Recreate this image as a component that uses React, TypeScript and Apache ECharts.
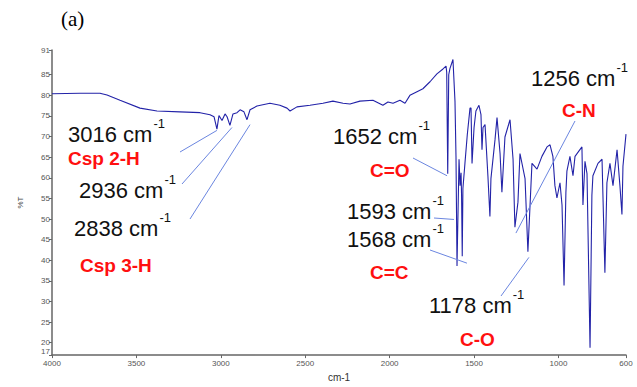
import React, { useEffect, useRef } from "react";
import * as echarts from "echarts";

// Wavenumber (cm-1) and transmittance (%T)
const wavenumbers = [
  4000, 3834, 3716, 3674, 3597, 3479, 3378, 3242, 3123, 3064, 3040, 3023, 3011, 2993, 2975, 2963,
  2946, 2928, 2904, 2886, 2863, 2845, 2827, 2786, 2709, 2650, 2608, 2590, 2549, 2472, 2395, 2336,
  2276, 2235, 2176, 2099, 2040, 2010, 1980, 1939, 1909, 1880, 1838, 1803, 1761, 1720, 1684, 1666,
  1662, 1656, 1650, 1643, 1625, 1613, 1607, 1601, 1589, 1583, 1577, 1574, 1570, 1566, 1554, 1540,
  1524, 1518, 1512, 1500, 1489, 1471, 1459, 1453, 1447, 1435, 1418, 1406, 1400, 1376, 1364, 1346,
  1335, 1317, 1287, 1269, 1258, 1240, 1228, 1198, 1181, 1157, 1127, 1098, 1068, 1050, 1033, 1021,
  1009, 991, 979, 967, 956, 950, 932, 914, 902, 861, 855, 843, 831, 813, 802, 796,
  766, 742, 725, 713, 695, 677, 653, 636, 624, 618, 600,
];
const transmittance = [
  80.4, 80.5, 80.5, 80.1, 78.8, 76.9, 76.2, 76.0, 75.8, 75.3, 74.8, 71.8, 75.1, 73.9, 75.5, 74.8,
  72.7, 75.5, 75.8, 76.5, 76.0, 74.1, 76.5, 77.4, 78.1, 77.6, 76.9, 76.2, 77.2, 77.6, 78.1, 78.6,
  78.1, 77.9, 78.6, 78.8, 77.6, 78.4, 78.1, 78.8, 78.1, 80.0, 80.9, 81.6, 83.3, 85.2, 86.4, 87.1,
  85.6, 61.0, 85.0, 86.5, 88.7, 78.6, 65.2, 38.6, 64.5, 58.1, 61.2, 55.8, 41.0, 57.4, 63.5, 70.5,
  76.9, 76.9, 63.5, 72.2, 76.2, 77.6, 75.3, 66.8, 72.2, 72.9, 60.5, 50.6, 59.8, 69.2, 74.6, 65.9,
  56.5, 69.9, 74.1, 64.5, 48.0, 54.1, 65.9, 59.8, 42.1, 63.5, 62.1, 65.2, 67.5, 68.0, 65.2, 58.1,
  55.1, 58.8, 53.4, 33.9, 56.5, 61.6, 65.2, 60.5, 65.2, 67.5, 53.4, 64.0, 61.0, 18.8, 55.8, 60.5,
  63.5, 64.5, 37.0, 58.8, 63.5, 58.1, 66.8, 58.1, 51.1, 62.8, 70.6,
];

const xTickValues = [4000, 3500, 3000, 2500, 2000, 1500, 1000, 600];
const yTickValues = [17, 20, 25, 30, 35, 40, 45, 50, 55, 60, 65, 70, 75, 80, 85, 91];

// Peak annotations: label, and the data point the leader line points to
const peakNames = ["3016", "2936", "2838", "1652", "1593", "1568", "1178", "1256"];
const peakTipWn = [3023, 2934, 2827, 1660, 1619, 1542, 1175, 1252];
const peakTipT = [71.5, 72.2, 72.9, 60.5, 49.9, 39.3, 40.7, 46.6];
const groupNames = ["Csp 2-H", "Csp 3-H", "C=O", "C=C", "C-O", "C-N"];

// layout (pixels) for annotation texts and leader-line tails
const peakTextPos = [
  [68, 134], [79, 190], [74, 228], [333, 136], [347, 211], [347, 239], [429, 305], [531, 78],
];
const peakTailPos = [
  [180, 152], [182, 184], [190, 219], [413, 158], [434, 218], [430, 250], [501, 296], [575, 121],
];
const groupTextPos = [
  [68, 158], [80, 265], [370, 170], [370, 272], [460, 339], [562, 110],
];

const W = 637;
const H = 387;
const NUM_FONT = '22px "Liberation Sans", Arial, sans-serif';
const SUP_FONT = '13px "Liberation Sans", Arial, sans-serif';
const GROUP_FONT = 'bold 19px "Liberation Sans", Arial, sans-serif';

function measure(text: string, font: string): number {
  const c = document.createElement("canvas");
  const ctx = c.getContext("2d");
  if (!ctx) return text.length * 10;
  ctx.font = font;
  return ctx.measureText(text).width;
}

export default function App() {
  const ref = useRef<HTMLDivElement>(null);

  useEffect(() => {
    document.body.style.margin = "0";
    if (!ref.current) return;
    const chart = echarts.init(ref.current, undefined, { renderer: "svg" });
    const data = wavenumbers.map((w, i) => [w, transmittance[i]]);
    const tickFont = {
      fontSize: 8,
      color: "#555",
      fontFamily: '"Liberation Sans", Arial, sans-serif',
    };
    chart.setOption({
      animation: false,
      backgroundColor: "#fff",
      grid: { left: 52, right: 11, top: 50, bottom: 22, containLabel: false },
      xAxis: {
        type: "value",
        min: 600,
        max: 4000,
        inverse: true,
        name: "cm-1",
        nameLocation: "middle",
        nameGap: 12,
        nameTextStyle: { fontSize: 10, color: "#333", fontFamily: '"Liberation Sans", Arial, sans-serif' },
        axisLine: { show: true, lineStyle: { color: "#666", width: 1.5 } },
        axisTick: { show: true, length: 3, customValues: xTickValues, lineStyle: { color: "#666" } },
        axisLabel: {
          customValues: xTickValues,
          margin: 4,
          ...tickFont,
          formatter: (v: number) => String(v),
        },
        splitLine: { show: false },
      },
      yAxis: {
        type: "value",
        min: 17,
        max: 91,
        name: "%T",
        nameLocation: "middle",
        nameGap: 28,
        nameTextStyle: { fontSize: 8, color: "#444", fontFamily: '"Liberation Sans", Arial, sans-serif' },
        axisLine: { show: true, lineStyle: { color: "#666", width: 1.5 } },
        axisTick: { show: true, length: 3, customValues: yTickValues, lineStyle: { color: "#666" } },
        axisLabel: {
          customValues: yTickValues,
          margin: 2,
          ...tickFont,
          formatter: (v: number) => (v === 17 ? "{lo|17}" : String(v)),
          rich: { lo: { ...tickFont, padding: [0, 0, 7, 0] } },
        },
        splitLine: { show: false },
      },
      series: [
        {
          type: "line",
          data,
          showSymbol: false,
          symbol: "none",
          lineStyle: { color: "#2323a8", width: 1.1 },
          z: 2,
        },
      ],
    });

    const graphics: any[] = [];
    graphics.push({
      type: "text",
      style: {
        text: "(a)",
        x: 61,
        y: 19,
        font: '21px "Liberation Serif", "Times New Roman", serif',
        fill: "#000",
        verticalAlign: "middle",
      },
    });
    peakNames.forEach((name, i) => {
      const [tx, ty] = peakTextPos[i];
      const main = name + " cm";
      const wMain = measure(main, NUM_FONT);
      graphics.push({
        type: "text",
        style: { text: main, x: tx, y: ty, font: NUM_FONT, fill: "#111", verticalAlign: "middle" },
        z: 10,
      });
      graphics.push({
        type: "text",
        style: { text: "-1", x: tx + wMain + 1, y: ty - 11, font: SUP_FONT, fill: "#111", verticalAlign: "middle" },
        z: 10,
      });
      const tip = chart.convertToPixel({ xAxisIndex: 0, yAxisIndex: 0 }, [peakTipWn[i], peakTipT[i]]) as number[];
      const [lx, ly] = peakTailPos[i];
      graphics.push({
        type: "line",
        shape: { x1: lx, y1: ly, x2: tip[0], y2: tip[1] },
        style: { stroke: "#6b86e0", lineWidth: 1 },
        z: 5,
      });
    });
    groupNames.forEach((g, i) => {
      const [gx, gy] = groupTextPos[i];
      graphics.push({
        type: "text",
        style: { text: g, x: gx, y: gy, font: GROUP_FONT, fill: "#ff1010", verticalAlign: "middle" },
        z: 10,
      });
    });
    chart.setOption({ graphic: graphics });

    return () => chart.dispose();
  }, []);

  return <div ref={ref} style={{ width: W, height: H }} />;
}
